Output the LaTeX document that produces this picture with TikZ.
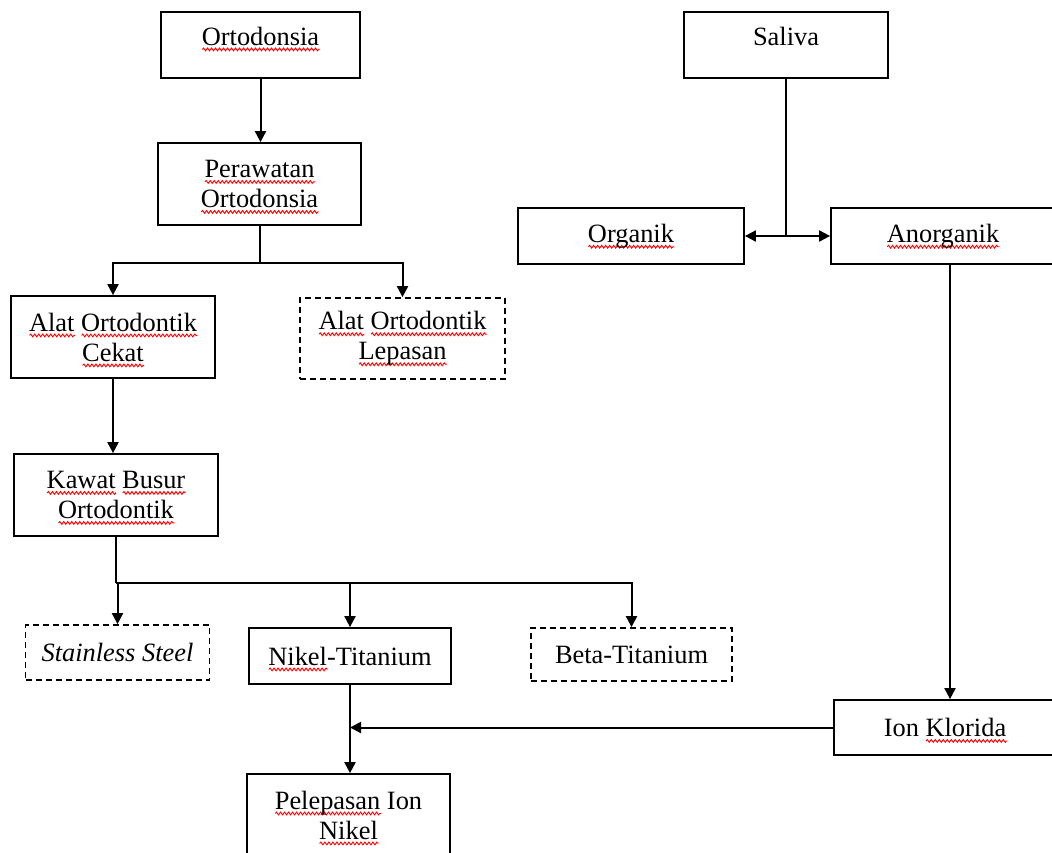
\documentclass[tikz,border=0pt]{standalone}
\usepackage{fontspec}
\setmainfont{Liberation Serif}
\usepackage{tikz}
\usetikzlibrary{arrows.meta,decorations.pathmorphing}
\tikzstyle{kotak}=[draw, line width=0.9pt, align=center, inner sep=0pt, font=\fontsize{13.2}{15}\selectfont]
\tikzstyle{kotakputus}=[kotak, dash pattern=on 3pt off 2pt]
\tikzstyle{kotakatas}=[kotak, text height=16.5pt, text depth=16.5pt]
\tikzstyle{garis}=[line width=1pt]
\tikzstyle{panah}=[garis, -{Triangle[length=5.5pt,width=5.5pt]}]
\providecommand{\kotak}{\node[kotak]}
\newsavebox{\kata}
\newcommand{\salah}[1]{\sbox{\kata}{#1}\leavevmode\rlap{\smash{\raisebox{-2.2pt}{\tikz[baseline=0pt, x=1pt, y=1pt] \draw[red, line width=0.45pt, decorate, decoration={snake, amplitude=0.7pt, segment length=2pt}] (0pt,0pt) -- (\the\wd\kata,0pt);}}}\usebox{\kata}}

\begin{document}
\begin{tikzpicture}[x=0.5pt, y=-0.5pt,
    every edge/.style={draw, panah}
]
\useasboundingbox (0,0) rectangle (1052,852);
% cabang kiri
\kotak (ortodonsia) at (260.5,45) [kotakatas, minimum width=99.5pt, minimum height=33pt] {\salah{Ortodonsia}};
\kotak (perawatan) at (259.5,184) [minimum width=101.5pt, minimum height=41pt] {\salah{Perawatan}\\\salah{Ortodonsia}};
\kotak (cekat) at (113,337) [minimum width=102pt, minimum height=41pt] {\salah{Alat} \salah{Ortodontik}\\\salah{Cekat}};
\kotak (lepasan) at (402.5,338.5) [kotakputus, minimum width=102.5pt, minimum height=40.5pt] {\salah{Alat} \salah{Ortodontik}\\\salah{Lepasan}};
\kotak (kawat) at (116,495) [minimum width=102pt, minimum height=41pt] {\salah{Kawat} \salah{Busur}\\\salah{Ortodontik}};
\kotak (ss) at (117.5,652.5) [kotakputus, minimum width=92pt, minimum height=27.5pt] {\itshape Stainless Steel};
\kotak (niti) at (350,656) [minimum width=101pt, minimum height=28pt] {\salah{Nikel}-Titanium};
\kotak (beta) at (631.5,654.5) [kotakputus, minimum width=100.5pt, minimum height=26.5pt] {Beta-Titanium};
\kotak (pelepasan) at (348.5,815) [minimum width=101.5pt, minimum height=41pt] {\salah{Pelepasan} Ion\\\salah{Nikel}};
% cabang kanan
\kotak (saliva) at (786,45) [kotakatas, minimum width=102pt, minimum height=33pt] {Saliva};
\kotak (organik) at (631,236) [minimum width=113pt, minimum height=28pt] {\salah{Organik}};
\kotak (anorganik) at (943,236) [minimum width=112pt, minimum height=28pt] {\salah{Anorganik}};
\kotak (klorida) at (945,727.5) [minimum width=111pt, minimum height=27.5pt] {Ion \salah{Klorida}};

\draw[garis] (perawatan.south) -- ++(0,37) coordinate (cabang1);
\draw[garis] (kawat.south) -- ++(0,46) coordinate (cabang2);
\draw[garis] (saliva.south) -- (saliva.south |- organik.east) coordinate (cabang3);
\draw[panah] (cabang1) -| (cekat.north);
\draw[panah] (cabang1) -| (lepasan.north);
\draw[panah] (cabang2) -| (ss.north);
\draw[panah] (cabang2) -| (niti.north);
\draw[panah] (cabang2) -| (beta.north);
\path
(ortodonsia.south) edge (ortodonsia.south |- perawatan.north)
(cekat.south) edge (cekat.south |- kawat.north)
(niti.south) edge (niti.south |- pelepasan.north)
(klorida.west) edge (klorida.west -| niti.south)
(cabang3) edge (organik.east)
(cabang3) edge (anorganik.west)
([xshift=3.5pt]anorganik.south) edge ([xshift=3.5pt]anorganik.south |- klorida.north)
;
\end{tikzpicture}
\end{document}
